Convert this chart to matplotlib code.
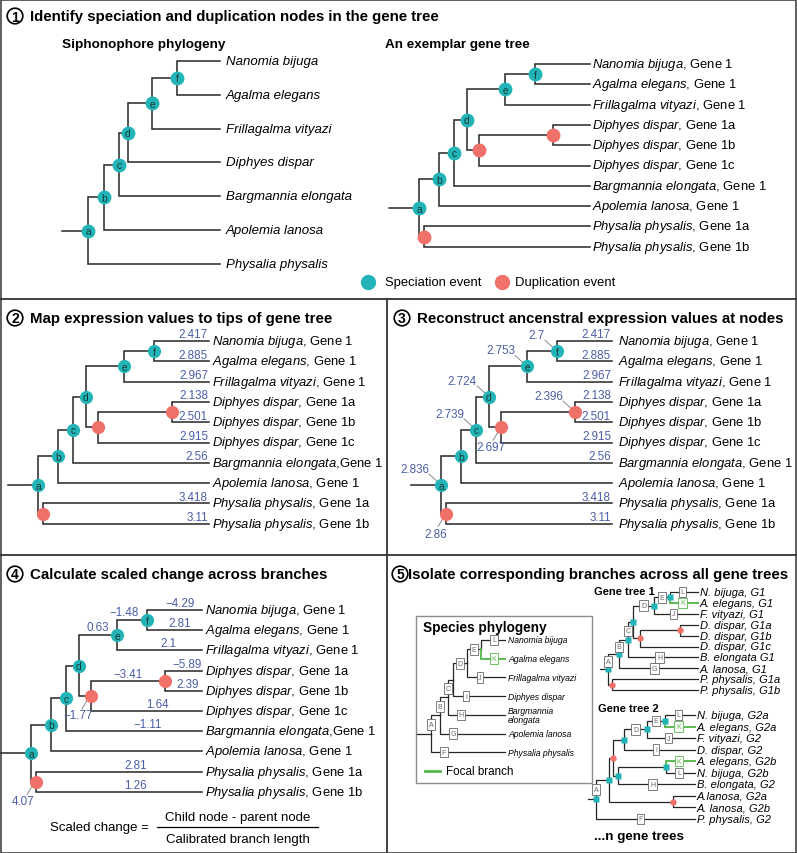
import matplotlib.pyplot as plt
from matplotlib.patches import Circle, Rectangle

plt.rcParams['font.family'] = ['Liberation Sans', 'DejaVu Sans']
plt.rcParams['mathtext.fontset'] = 'custom'
plt.rcParams['mathtext.it'] = 'Liberation Sans:italic'
plt.rcParams['mathtext.rm'] = 'Liberation Sans'

TEAL = '#22b4b6'
RED = '#f0706a'
BLUE = '#4b5ea6'
GREEN = '#56b84a'
LINE = '#262626'

# ---------------- data ----------------
# siphonophore species tree (panel 1 left / panel 5 box)
species_tree = {'a': ['b', 'Pp'], 'b': ['c', 'Al'], 'c': ['d', 'Be'],
                'd': ['e', 'Dd'], 'e': ['f', 'Fv'], 'f': ['Nb', 'Ae']}
species_depth = {'a': 26, 'b': 42, 'c': 57, 'd': 66, 'e': 90, 'f': 115, 'tip': 158}
species_names = {'Nb': 'Nanomia bijuga', 'Ae': 'Agalma elegans', 'Fv': 'Frillagalma vityazi',
                 'Dd': 'Diphyes dispar', 'Be': 'Bargmannia elongata', 'Al': 'Apolemia lanosa',
                 'Pp': 'Physalia physalis'}

# exemplar gene tree (panels 1-4)
gene_tree = {'a': ['b', 'dP'], 'b': ['c', 'Al'], 'c': ['d', 'Be'], 'd': ['e', 'dD'],
             'e': ['f', 'Fv'], 'f': ['Nb', 'Ae'], 'dD': ['dD2', 'Dd1c'],
             'dD2': ['Dd1a', 'Dd1b'], 'dP': ['Pp1a', 'Pp1b']}
gene_depth = {'a': 30, 'b': 50, 'c': 65, 'd': 78, 'e': 116, 'f': 146,
              'dD': 90, 'dD2': 164, 'dP': 35, 'tip': 201}
gene_dups = ['dD', 'dD2', 'dP']
gene_species = {'Nb': 'Nanomia bijuga', 'Ae': 'Agalma elegans', 'Fv': 'Frillagalma vityazi',
                'Dd1a': 'Diphyes dispar', 'Dd1b': 'Diphyes dispar', 'Dd1c': 'Diphyes dispar',
                'Be': 'Bargmannia elongata', 'Al': 'Apolemia lanosa',
                'Pp1a': 'Physalia physalis', 'Pp1b': 'Physalia physalis'}
gene_copy = {'Nb': 'Gene 1', 'Ae': 'Gene 1', 'Fv': 'Gene 1', 'Dd1a': 'Gene 1a',
             'Dd1b': 'Gene 1b', 'Dd1c': 'Gene 1c', 'Be': 'Gene 1', 'Al': 'Gene 1',
             'Pp1a': 'Gene 1a', 'Pp1b': 'Gene 1b'}

tip_expression = {'Nb': 2.417, 'Ae': 2.885, 'Fv': 2.967, 'Dd1a': 2.138, 'Dd1b': 2.501,
                  'Dd1c': 2.915, 'Be': 2.56, 'Pp1a': 3.418, 'Pp1b': 3.11}
node_expression = {'f': 2.7, 'e': 2.753, 'd': 2.724, 'c': 2.739, 'a': 2.836,
                   'dD2': 2.396, 'dD': 2.697, 'dP': 2.86}
scaled_change = {'Nb': -4.29, 'Ae': 2.81, 'Fv': 2.1, 'Dd1a': -5.89, 'Dd1b': 2.39,
                 'Dd1c': 1.64, 'Be': -1.11, 'Pp1a': 2.81, 'Pp1b': 1.26,
                 'f': -1.48, 'e': 0.63, 'dD2': -3.41, 'dD': -1.77, 'dP': 4.07}

# panel 5 trees
sp5_depth = {'a': 14, 'b': 23, 'c': 31, 'd': 36, 'e': 50, 'f': 64, 'tip': 88}
sp5_names = {'Nb': 'Nanomia bijuga', 'Ae': 'Agalma elegans', 'Fv': 'Frillagalma vityazi',
             'Dd': 'Diphyes dispar', 'Be': 'Bargmannia\nelongata', 'Al': 'Apolemia lanosa',
             'Pp': 'Physalia physalis'}
sp5_letters = {'b': 'A', 'c': 'B', 'd': 'C', 'e': 'D', 'f': 'E', 'Pp': 'F', 'Al': 'G',
               'Be': 'H', 'Dd': 'I', 'Fv': 'J', 'Ae': 'K', 'Nb': 'L'}

gt1_depth = {'a': 8, 'b': 19, 'c': 28, 'd': 33, 'e': 54, 'f': 70,
             'dD': 40, 'dD2': 80, 'dP': 12, 'tip': 98}
gt1_names = {'Nb': 'N. bijuga, G1', 'Ae': 'A. elegans, G1', 'Fv': 'F. vityazi, G1',
             'Dd1a': 'D. dispar, G1a', 'Dd1b': 'D. dispar, G1b', 'Dd1c': 'D. dispar, G1c',
             'Be': 'B. elongata G1', 'Al': 'A. lanosa, G1',
             'Pp1a': 'P. physalis, G1a', 'Pp1b': 'P. physalis, G1b'}
gt1_letters = {'b': 'A', 'c': 'B', 'd': 'C', 'e': 'D', 'f': 'E', 'Al': 'G',
               'Be': 'H', 'Fv': 'J', 'Ae': 'K', 'Nb': 'L'}

gt2_tree = {'a': ['n1', 'Pp'], 'n1': ['dup', 'dAl'], 'dup': ['n2', 'n3'],
            'n2': ['n4', 'Dd'], 'n4': ['n5', 'Fv'], 'n5': ['Nb_a', 'Ae_a'],
            'n3': ['n6', 'Be'], 'n6': ['Ae_b', 'Nb_b'], 'dAl': ['Al_a', 'Al_b']}
gt2_depth = {'a': 8, 'n1': 21, 'dup': 25, 'n2': 36, 'n4': 59, 'n5': 77,
             'n3': 30, 'n6': 78, 'dAl': 85, 'tip': 107}
gt2_dups = ['dup', 'dAl']
gt2_names = {'Nb_a': 'N. bijuga, G2a', 'Ae_a': 'A. elegans, G2a', 'Fv': 'F. vityazi, G2',
             'Dd': 'D. dispar, G2', 'Ae_b': 'A. elegans, G2b', 'Nb_b': 'N. bijuga, G2b',
             'Be': 'B. elongata, G2', 'Al_a': 'A.lanosa, G2a', 'Al_b': 'A. lanosa, G2b',
             'Pp': 'P. physalis, G2'}
gt2_letters = {'n1': 'A', 'n4': 'D', 'n5': 'E', 'Pp': 'F', 'Dd': 'I', 'Fv': 'J',
               'Be': 'H', 'Ae_a': 'K', 'Nb_a': 'L', 'Ae_b': 'K', 'Nb_b': 'L'}

VAL_FS = 8.4
LAB_FS = 9.4

# ---------------- helpers ----------------
fig = plt.figure(figsize=(7.97, 8.54), dpi=100)
ax = fig.add_axes([0, 0, 1, 1])
ax.set_xlim(0, 797)
ax.set_ylim(854, 0)
ax.axis('off')


def fmt(v):
    return ('%g' % v).replace('-', '\u2212')


def layout(tree, depth, x0, y0, dy):
    pos = {}
    count = [0]

    def rec(n):
        if n in tree:
            ys = [rec(c) for c in tree[n]]
            y = (ys[0] + ys[-1]) / 2
            pos[n] = (x0 + depth[n], y)
        else:
            y = y0 + count[0] * dy
            count[0] += 1
            pos[n] = (x0 + depth['tip'], y)
        return y
    rec('a')
    return pos


def draw_branches(tree, pos, x0, lw=1.1, focal=()):
    rx, ry = pos['a']
    ax.plot([x0, rx], [ry, ry], color=LINE, lw=lw, zorder=1)
    for p, kids in tree.items():
        px, py = pos[p]
        for c in kids:
            cx, cy = pos[c]
            col = GREEN if c in focal else LINE
            ax.plot([px, px, cx], [py, cy, cy], color=col, lw=lw * (1.5 if c in focal else 1),
                    zorder=2 if c in focal else 1, solid_joinstyle='miter')


def draw_nodes(tree, pos, dups, ms=9.5, letters=True, spec_marker='o', dup_ms=None):
    for n in tree:
        x, y = pos[n]
        if n in dups:
            ax.plot(x, y, 'o', ms=dup_ms or ms, color=RED, mec='none', zorder=3)
        else:
            ax.plot(x, y, spec_marker, ms=ms, color=TEAL, mec='none', zorder=3)
            if letters:
                ax.text(x, y + 0.5, n, fontsize=7.4, ha='center', va='center',
                        color='#14393b', zorder=4)


def draw_boxes(tree, pos, letters, tip_off=None, tip_frac=0.45, focal=()):
    parent = {c: p for p, ks in tree.items() for c in ks}
    for c, letter in letters.items():
        p = parent[c]
        px, py = pos[p]
        cx, cy = pos[c]
        L = cx - px
        if c in tree:
            if L >= 14:
                bx, by = (px + cx) / 2, cy
            else:
                bx, by = px, (py + cy) / 2
        else:
            bx = px + (tip_off if tip_off is not None else tip_frac * L)
            by = cy
        col = GREEN if c in focal else '#666666'
        ax.text(bx, by, letter, fontsize=5.0, ha='center', va='center', color=col, zorder=5,
                bbox=dict(boxstyle='square,pad=0.25', fc='white', ec=col, lw=0.6))


def gene_label(tip, tight=()):
    sp = gene_species[tip].replace(' ', r'\ ')
    sep = ',' if tip in tight else ', '
    return r'$\it{' + sp + '}$' + sep + gene_copy[tip]


def tip_labels(pos, labels, fs=LAB_FS, dx=3, italic=False):
    for t, lab in labels.items():
        x, y = pos[t]
        ax.text(x + dx, y, lab, fontsize=fs, ha='left', va='center', color='black',
                style='italic' if italic else 'normal', linespacing=1.0)


def badge(x, y, num, title):
    ax.add_patch(Circle((x, y), 7.8, fill=False, ec='black', lw=1.2))
    ax.text(x, y + 0.5, str(num), fontsize=10, fontweight='bold', ha='center', va='center')
    ax.text(x + 15 if num != 5 else x + 8, y, title, fontsize=10.8, fontweight='bold',
            ha='left', va='center')


# ---------------- frame ----------------
ax.add_patch(Rectangle((0.5, 0.5), 796, 853, fill=False, ec='#444444', lw=1.2))
ax.plot([0, 797], [300, 300], color='#333333', lw=1.3)
ax.plot([0, 797], [556, 556], color='#333333', lw=1.3)
ax.plot([387, 387], [300, 854], color='#333333', lw=1.3)

# ---------------- panel 1 ----------------
badge(15, 17, 1, 'Identify speciation and duplication nodes in the gene tree')
ax.text(62, 45, 'Siphonophore phylogeny', fontsize=9.7, fontweight='bold', va='center')
ax.text(385, 45, 'An exemplar gene tree', fontsize=9.7, fontweight='bold', va='center')

pos = layout(species_tree, species_depth, 62, 62, 33.8)
draw_branches(species_tree, pos, 62)
draw_nodes(species_tree, pos, [], ms=10)
tip_labels(pos, {t: species_names[t] for t in species_names}, fs=9.5, dx=6, italic=True)

pos = layout(gene_tree, gene_depth, 389, 65, 20.3)
draw_branches(gene_tree, pos, 389)
draw_nodes(gene_tree, pos, gene_dups, ms=10)
tip_labels(pos, {t: gene_label(t) for t in gene_species}, dx=2)

ax.plot(368, 283, 'o', ms=11, color=TEAL, mec='none')
ax.text(385, 283, 'Speciation event', fontsize=9.4, va='center')
ax.plot(502, 283, 'o', ms=11, color=RED, mec='none')
ax.text(515, 283, 'Duplication event', fontsize=9.4, va='center')

# ---------------- panel 2 ----------------
badge(15, 319, 2, 'Map expression values to tips of gene tree')
pos = layout(gene_tree, gene_depth, 8, 342, 20.3)
draw_branches(gene_tree, pos, 8)
draw_nodes(gene_tree, pos, gene_dups)
tip_labels(pos, {t: gene_label(t, tight=('Be',)) for t in gene_species}, dx=3)
for t, v in tip_expression.items():
    x, y = pos[t]
    ax.text(x - 1, y - 0.5, fmt(v), fontsize=VAL_FS, color=BLUE, ha='right', va='bottom')

# ---------------- panel 3 ----------------
badge(402, 319, 3, 'Reconstruct ancenstral expression values at nodes')
pos = layout(gene_tree, gene_depth, 411, 342, 20.3)
draw_branches(gene_tree, pos, 411)
draw_nodes(gene_tree, pos, gene_dups)
tip_labels(pos, {t: gene_label(t) for t in gene_species}, dx=6)
for t, v in tip_expression.items():
    x, y = pos[t]
    ax.text(x - 1, y - 0.5, fmt(v), fontsize=VAL_FS, color=BLUE, ha='right', va='bottom')
below = ('dD', 'dP')
for n, v in node_expression.items():
    x, y = pos[n]
    if n in below:
        ax.plot([x - 8, x], [y + 13, y], color='#8a8a8a', lw=0.7, zorder=2)
        ax.text(x - 10, y + 14, fmt(v), fontsize=VAL_FS, color=BLUE, ha='center', va='top')
    else:
        ax.plot([x - 12, x], [y - 11, y], color='#8a8a8a', lw=0.7, zorder=2)
        ax.text(x - 12, y - 10, fmt(v), fontsize=VAL_FS, color=BLUE, ha='right', va='bottom')

# ---------------- panel 4 ----------------
badge(15, 575, 4, 'Calculate scaled change across branches')
pos = layout(gene_tree, gene_depth, 1, 611, 20.2)
draw_branches(gene_tree, pos, 1)
draw_nodes(gene_tree, pos, gene_dups)
tip_labels(pos, {t: gene_label(t, tight=('Be',)) for t in gene_species}, dx=3)
parent = {c: p for p, ks in gene_tree.items() for c in ks}
for n, v in scaled_change.items():
    x, y = pos[n]
    px = pos[parent[n]][0]
    if n in gene_tree:
        if n in ('f', 'e'):
            ax.text(x - 8, y - 2, fmt(v), fontsize=VAL_FS, color=BLUE, ha='right', va='bottom')
        elif n == 'dD2':
            ax.text((px + x) / 2, y - 1, fmt(v), fontsize=VAL_FS, color=BLUE,
                    ha='center', va='bottom')
        else:
            ax.plot([x - 9, x - 3], [y + 13, y + 3], color='#8a8a8a', lw=0.7, zorder=2)
            ax.text(x - 13, y + 13, fmt(v), fontsize=VAL_FS, color=BLUE, ha='center', va='top')
    else:
        ax.text(px + 0.6 * (x - px), y - 1, fmt(v), fontsize=VAL_FS, color=BLUE,
                ha='center', va='bottom')

ax.text(50, 828, 'Scaled change =', fontsize=9.5, va='center')
ax.plot([157, 318], [828, 828], color='black', lw=0.9)
ax.text(238, 818, 'Child node - parent node', fontsize=9.5, ha='center', va='center')
ax.text(238, 840, 'Calibrated branch length', fontsize=9.5, ha='center', va='center')

# ---------------- panel 5 ----------------
badge(400, 575, 5, 'Isolate corresponding branches across all gene trees')

ax.add_patch(Rectangle((416, 617), 176, 167, fill=False, ec='#8c8c8c', lw=1.0))
ax.text(423, 628, 'Species phylogeny', fontsize=9.8, fontweight='bold', va='center')
pos = layout(species_tree, sp5_depth, 417, 641, 18.7)
draw_branches(species_tree, pos, 417, lw=0.9, focal=('Ae',))
draw_boxes(species_tree, pos, sp5_letters, tip_off=13, focal=('Ae',))
tip_labels(pos, sp5_names, fs=6.2, dx=3, italic=True)
ax.plot([425, 440], [772, 772], color=GREEN, lw=2)
ax.text(446, 772, 'Focal branch', fontsize=8.4, va='center')

ax.text(594, 592, 'Gene tree 1', fontsize=8.0, fontweight='bold', va='center')
pos = layout(gene_tree, gt1_depth, 600, 593, 10.9)
draw_branches(gene_tree, pos, 600, lw=0.9, focal=('Ae',))
draw_nodes(gene_tree, pos, gene_dups, ms=4.2, letters=False, spec_marker='s', dup_ms=4.6)
draw_boxes(gene_tree, pos, gt1_letters, focal=('Ae',))
tip_labels(pos, gt1_names, fs=8.0, dx=2, italic=True)

ax.text(598, 709, 'Gene tree 2', fontsize=8.0, fontweight='bold', va='center')
pos = layout(gt2_tree, gt2_depth, 588, 716, 11.55)
draw_branches(gt2_tree, pos, 588, lw=0.9, focal=('Ae_a', 'Ae_b'))
draw_nodes(gt2_tree, pos, gt2_dups, ms=4.2, letters=False, spec_marker='s', dup_ms=4.6)
draw_boxes(gt2_tree, pos, gt2_letters, focal=('Ae_a', 'Ae_b'))
tip_labels(pos, gt2_names, fs=8.0, dx=2, italic=True)

ax.text(594, 837, '...n gene trees', fontsize=9.6, fontweight='bold', va='center')

fig.savefig('out.png', dpi=100)
